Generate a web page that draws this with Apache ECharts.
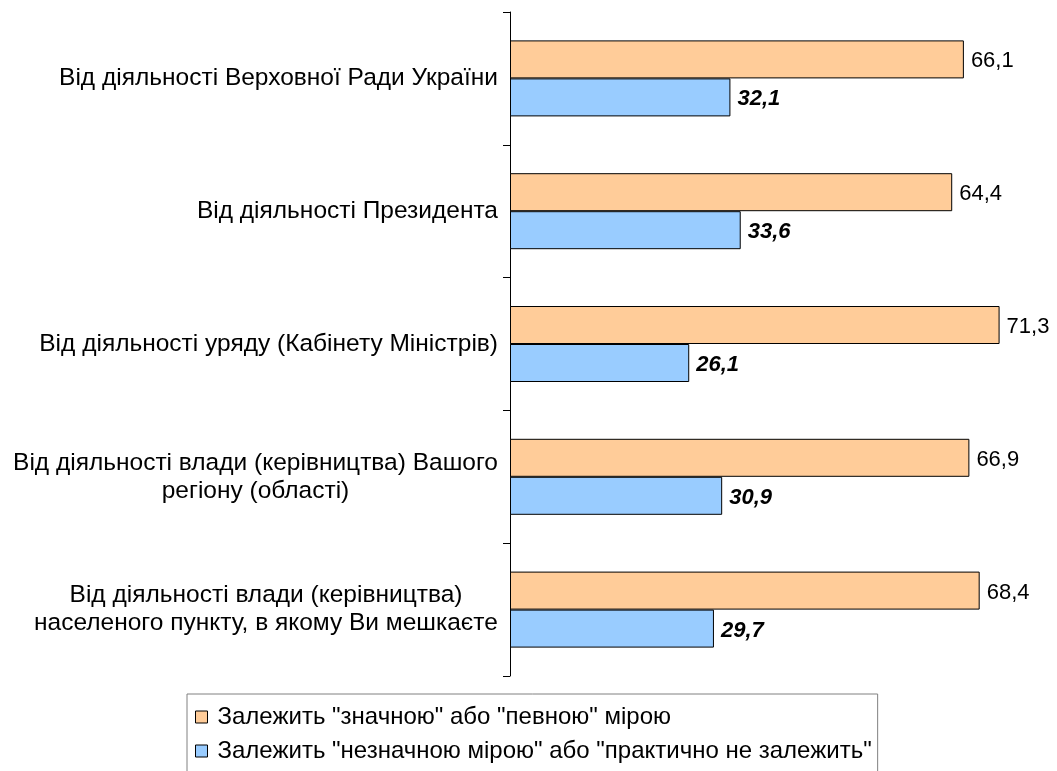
<!DOCTYPE html>
<html>
<head>
<meta charset="utf-8">
<script src="https://cdn.jsdelivr.net/npm/echarts@6/dist/echarts.min.js"></script>
<style>
  html, body { margin: 0; padding: 0; background: #fff; }
  #chart { width: 1057px; height: 771px; }
</style>
</head>
<body>
<div id="chart"></div>
<script>
const categories = [
  "Від діяльності Верховної Ради України",
  "Від діяльності Президента",
  "Від діяльності уряду (Кабінету Міністрів)",
  "Від діяльності влади (керівництва) Вашого\nрегіону (області)",
  "Від діяльності влади (керівництва)\nнаселеного пункту, в якому Ви мешкаєте"
]
const seriesNames = [
  "Залежить \"значною\" або \"певною\" мірою",
  "Залежить \"незначною мірою\" або \"практично не залежить\""
]
const significant = [66.1, 64.4, 71.3, 66.9, 68.4]
const insignificant = [32.1, 33.6, 26.1, 30.9, 29.7]

const font = "'Liberation Sans', Arial, sans-serif"
const labelSize = 24.5
const comma = (p) => String(p.value).replace(".", ",")

// multi-line category labels: lines centred on each other, block right-aligned to the axis
const ctx = document.createElement("canvas").getContext("2d")
ctx.font = labelSize + "px " + font
const rich = {}
categories.forEach((c, i) => {
  const w = Math.max(...c.split("\n").map((l) => ctx.measureText(l).width))
  rich["c" + i] = { width: Math.ceil(w), align: "center", fontSize: labelSize, lineHeight: 28, fontFamily: font, color: "#000" }
})
const categoryLabel = (value, index) => {
  if (value.indexOf("\n") < 0) return value
  return value.split("\n").map((l) => "{c" + index + "|" + l + "}").join("\n")
}

const chart = echarts.init(document.getElementById("chart"))
chart.setOption({
  animation: false,
  backgroundColor: "#fff",
  textStyle: { fontFamily: font, color: "#000" },
  grid: { left: 510, top: 12, width: 515, height: 664 },
  xAxis: { type: "value", min: 0, max: 75, show: false },
  yAxis: {
    type: "category",
    data: categories,
    inverse: true,
    axisLine: { lineStyle: { color: "#000", width: 1 } },
    axisTick: { show: true, length: 7, lineStyle: { color: "#000" } },
    axisLabel: { fontSize: labelSize, color: "#000", margin: 12, lineHeight: 28, fontFamily: font,
      formatter: categoryLabel, rich: rich }
  },
  legend: {
    orient: "vertical",
    left: 187,
    top: 694,
    height: 120,
    padding: [11, 6, 12, 8],
    itemGap: 10,
    itemWidth: 12,
    itemHeight: 12,
    borderColor: "#808080",
    borderWidth: 1,
    textStyle: { fontSize: 24, fontFamily: font, color: "#000", padding: [0, 0, 0, 5] },
    data: seriesNames.map((n) => ({ name: n, icon: "rect", itemStyle: { borderColor: "#000", borderWidth: 1 } }))
  },
  series: [
    {
      name: seriesNames[0],
      type: "bar",
      data: significant,
      barWidth: 38,
      barGap: "0%",
      itemStyle: { color: "#ffcc99", borderColor: "#000", borderWidth: 1 },
      label: { show: true, position: "right", distance: 7, offset: [0, 2], fontSize: 22, color: "#000", fontFamily: font, formatter: comma }
    },
    {
      name: seriesNames[1],
      type: "bar",
      data: insignificant,
      barWidth: 38,
      barGap: "0%",
      itemStyle: { color: "#99ccff", borderColor: "#000", borderWidth: 1 },
      label: { show: true, position: "right", distance: 7, offset: [0, 2], fontSize: 22, fontWeight: "bold", fontStyle: "italic", color: "#000", fontFamily: font, formatter: comma }
    }
  ]
})
</script>
</body>
</html>
